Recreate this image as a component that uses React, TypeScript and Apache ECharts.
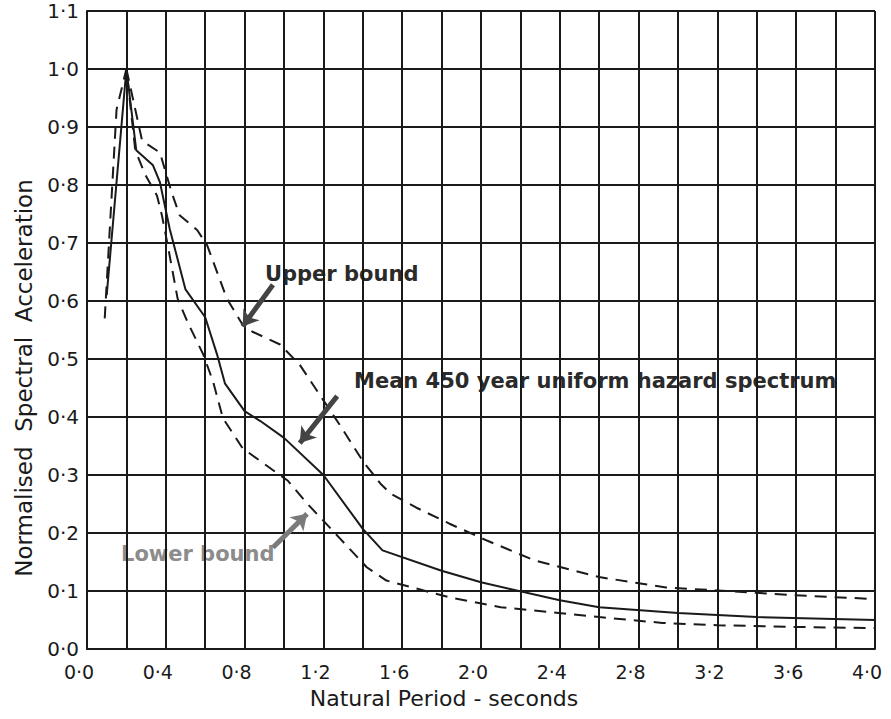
import React, { useEffect, useRef } from "react";
import * as echarts from "echarts";

// Mean 450 year uniform hazard spectrum (solid)
const meanPeriod = [0.1, 0.2, 0.25, 0.335, 0.37, 0.42, 0.5, 0.6, 0.66, 0.7, 0.8, 0.88, 1.0, 1.2, 1.4, 1.5, 1.8, 2.0, 2.4, 2.6, 3.0, 3.4, 4.0];
const meanAccel = [0.61, 1.0, 0.86, 0.834, 0.805, 0.724, 0.62, 0.572, 0.508, 0.458, 0.41, 0.393, 0.364, 0.3, 0.207, 0.17, 0.135, 0.115, 0.084, 0.072, 0.062, 0.055, 0.05];

// Upper bound (dashed)
const upperPeriod = [0.2, 0.28, 0.37, 0.43, 0.47, 0.56, 0.61, 0.71, 0.79, 0.84, 0.98, 1.08, 1.17, 1.28, 1.4, 1.49, 1.54, 1.67, 1.84, 2.03, 2.27, 2.6, 2.94, 3.2, 3.58, 4.0];
const upperAccel = [1.0, 0.876, 0.856, 0.787, 0.748, 0.722, 0.696, 0.604, 0.559, 0.547, 0.525, 0.49, 0.444, 0.388, 0.324, 0.285, 0.268, 0.244, 0.216, 0.187, 0.153, 0.124, 0.106, 0.101, 0.093, 0.086];

// Lower bound (dashed)
const lowerPeriod = [0.09, 0.15, 0.2, 0.245, 0.295, 0.355, 0.38, 0.41, 0.46, 0.51, 0.59, 0.64, 0.69, 0.79, 0.88, 1.02, 1.12, 1.28, 1.42, 1.52, 1.84, 2.1, 2.6, 2.92, 3.2, 3.6, 4.0];
const lowerAccel = [0.57, 0.93, 1.0, 0.86, 0.818, 0.782, 0.748, 0.696, 0.604, 0.564, 0.508, 0.461, 0.398, 0.346, 0.324, 0.29, 0.25, 0.192, 0.141, 0.118, 0.089, 0.072, 0.055, 0.045, 0.041, 0.038, 0.036];

const xTickLabels = ["0·0", "0·4", "0·8", "1·2", "1·6", "2·0", "2·4", "2·8", "3·2", "3·6", "4·0"];
const yTickLabels = ["0·0", "0·1", "0·2", "0·3", "0·4", "0·5", "0·6", "0·7", "0·8", "0·9", "1·0", "1·1"];

// annotation arrows [fromPeriod, fromAccel, toPeriod, toAccel]
const upperArrow = [0.944, 0.628, 0.79, 0.556];
const meanArrow = [1.27, 0.436, 1.08, 0.355];
const lowerArrow = [0.944, 0.175, 1.117, 0.233];

const zip = (xs: number[], ys: number[]) => xs.map((x, i) => [x, ys[i]]);

const FONT = "DejaVu Sans";
const INK = "#1a1a1a";

export default function App() {
  const ref = useRef<HTMLDivElement>(null);
  useEffect(() => {
    document.body.style.margin = "0";
    const chart = echarts.init(ref.current!, null, { renderer: "svg" });
    const arrow = (a: number[], color: string) => [
      { coord: [a[0], a[1]], lineStyle: { color, width: 5, type: "solid" } },
      { coord: [a[2], a[3]] },
    ];
    chart.setOption({
      animation: false,
      backgroundColor: "#ffffff",
      grid: { left: 87, right: 16, top: 11, bottom: 70 },
      xAxis: {
        type: "value",
        min: 0,
        max: 4,
        interval: 0.2,
        axisLine: { show: true, lineStyle: { color: INK, width: 2 } },
        axisTick: { show: false },
        splitLine: { show: true, lineStyle: { color: INK, width: 2 } },
        axisLabel: {
          color: INK,
          fontFamily: FONT,
          fontSize: 19,
          margin: 13,
          padding: [0, 16, 0, 0],
          formatter: (v: number) => {
            const i = Math.round(v / 0.2);
            return i % 2 === 0 ? xTickLabels[i / 2] : "";
          },
        },
      },
      yAxis: {
        type: "value",
        min: 0,
        max: 1.1,
        interval: 0.1,
        axisLine: { show: true, lineStyle: { color: INK, width: 2 } },
        axisTick: { show: false },
        splitLine: { show: true, lineStyle: { color: INK, width: 2 } },
        axisLabel: {
          color: INK,
          fontFamily: FONT,
          fontSize: 20,
          margin: 8,
          formatter: (v: number) => yTickLabels[Math.round(v * 10)],
        },
      },
      graphic: [
        {
          type: "text",
          x: 24,
          y: 378,
          rotation: Math.PI / 2,
          style: {
            text: "Normalised  Spectral  Acceleration",
            fontFamily: FONT,
            fontSize: 23,
            fill: INK,
            align: "center",
            verticalAlign: "middle",
          },
        },
        {
          type: "text",
          x: 444,
          y: 698,
          style: {
            text: "Natural Period - seconds",
            fontFamily: FONT,
            fontSize: 22,
            fill: INK,
            align: "center",
            verticalAlign: "middle",
          },
        },
        {
          type: "text",
          x: 265,
          y: 274,
          style: {
            text: "Upper bound",
            fontFamily: FONT,
            fontSize: 21,
            fontWeight: "bold",
            fill: "#2a2a2a",
            verticalAlign: "middle",
          },
        },
        {
          type: "text",
          x: 354,
          y: 381,
          style: {
            text: "Mean 450 year uniform hazard spectrum",
            fontFamily: FONT,
            fontSize: 21,
            fontWeight: "bold",
            fill: "#2a2a2a",
            verticalAlign: "middle",
          },
        },
        {
          type: "text",
          x: 121,
          y: 554,
          style: {
            text: "Lower bound",
            fontFamily: FONT,
            fontSize: 21,
            fontWeight: "bold",
            fill: "#8c8c8c",
            verticalAlign: "middle",
          },
        },
      ],
      series: [
        {
          name: "Mean 450 year uniform hazard spectrum",
          type: "line",
          data: zip(meanPeriod, meanAccel),
          symbol: "none",
          lineStyle: { color: INK, width: 2 },
          z: 3,
          markLine: {
            silent: true,
            symbol: ["none", "arrow"],
            symbolSize: 15,
            label: { show: false },
            data: [
              arrow(upperArrow, "#444444"),
              arrow(meanArrow, "#444444"),
              arrow(lowerArrow, "#7a7a7a"),
            ],
          },
        },
        {
          name: "Upper bound",
          type: "line",
          data: zip(upperPeriod, upperAccel),
          symbol: "none",
          lineStyle: { color: INK, width: 2, type: [12, 8] },
          z: 2,
        },
        {
          name: "Lower bound",
          type: "line",
          data: zip(lowerPeriod, lowerAccel),
          symbol: "none",
          lineStyle: { color: INK, width: 2, type: [12, 8] },
          z: 2,
        },
      ],
    });
    return () => chart.dispose();
  }, []);
  return <div ref={ref} style={{ width: 891, height: 719 }} />;
}
